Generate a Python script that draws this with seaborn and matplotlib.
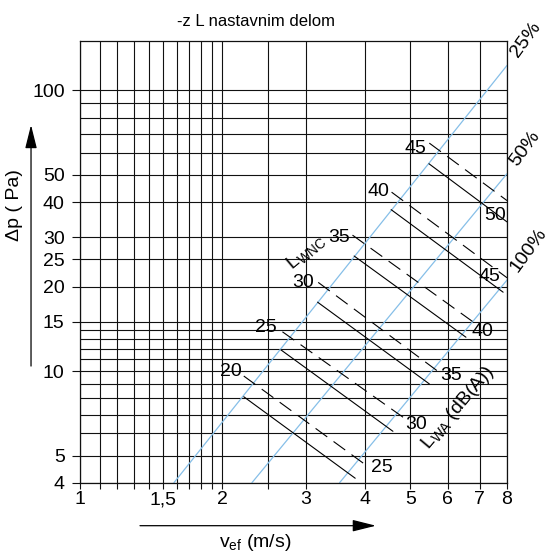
import numpy as np
import pandas as pd
import matplotlib
matplotlib.use('Agg')
import matplotlib.pyplot as plt
import seaborn as sns

# ---- data ----
x_labels = ['1', '1,5', '2', '3', '4', '5', '6', '7', '8']
x_ticks = [1, 1.5, 2, 3, 4, 5, 6, 7, 8]
x_minor = [1.1, 1.2, 1.3, 1.4, 1.6, 1.7, 1.8, 1.9, 2.5]
y_ticks = [4, 5, 10, 15, 20, 25, 30, 40, 50, 100]
y_minor = [6, 7, 8, 9, 11, 12, 13, 14, 60, 70, 80, 90]

# blue lines: share of the damper opening
pct_names = ['25%', '50%', '100%']
pct_v0 = [1.58, 2.31, 3.54]
pct_p0 = [4.0, 4.0, 4.0]
pct_v1 = [8.0, 8.0, 8.0]
pct_p1 = [122.8, 50.5, 21.1]

# noise lines: dashed = L_WNC, solid = L_WA
lwnc = [20, 25, 30, 35, 40, 45]
lwa = [25, 30, 35, 40, 45, 50]
dash_v0 = [2.22, 2.68, 3.19, 3.77, 4.56, 5.48]
dash_p0 = [9.6, 13.8, 20.7, 30.5, 43.4, 64.9]
dash_v1 = [3.97, 4.85, 5.75, 6.77, 8.0, 8.0]
dash_p1 = [4.7, 6.8, 9.9, 15.0, 21.5, 40.5]
solid_v0 = [2.22, 2.66, 3.18, 3.80, 4.55, 5.47]
solid_p0 = [8.1, 11.9, 17.6, 25.7, 37.6, 54.8]
solid_v1 = [3.82, 4.59, 5.48, 6.55, 7.85, 8.0]
solid_p1 = [4.15, 6.1, 9.0, 13.2, 19.1, 34.0]

# label spots (data coords)
lwnc_lab_v = [2.09, 2.47, 2.97, 3.54, 4.28, 5.12]
lwnc_lab_p = [10.0, 14.3, 20.6, 29.9, 43.6, 62.0]
lwa_lab_v = [4.35, 5.14, 6.09, 7.11, 7.35, 7.55]
lwa_lab_p = [4.52, 6.47, 9.67, 13.8, 21.7, 35.7]

sns.set_theme(style='white')
plt.rcParams['font.family'] = ['Liberation Sans', 'DejaVu Sans']
plt.rcParams['mathtext.default'] = 'regular'
plt.rcParams['text.color'] = 'black'
plt.rcParams['xtick.color'] = 'black'
plt.rcParams['ytick.color'] = 'black'

fs = 14

fig = plt.figure(figsize=(5.52, 5.58), dpi=100)
ax = fig.add_axes([0.1449, 0.1349, 0.7736, 0.7916])
ax.set_xscale('log')
ax.set_yscale('log')
ax.set_xlim(1, 8)
ax.set_ylim(4, 150)

# grid
ax.set_xticks(x_ticks)
ax.set_xticklabels(x_labels)
ax.set_xticks(x_minor, minor=True)
ax.set_yticks(y_ticks)
ax.set_yticklabels([str(t) for t in y_ticks])
ax.set_yticks(y_minor, minor=True)
ax.xaxis.set_minor_formatter(matplotlib.ticker.NullFormatter())
ax.yaxis.set_minor_formatter(matplotlib.ticker.NullFormatter())
ax.grid(True, which='both', color='#111111', lw=0.8)
ax.set_axisbelow(True)
ax.tick_params(axis='x', which='both', direction='out', length=4, width=0.8,
               color='#111111', labelsize=fs, pad=2, bottom=True)
ax.tick_params(axis='y', which='major', direction='out', length=6, width=0.8,
               color='#111111', labelsize=fs, pad=5, left=True)
ax.tick_params(axis='y', which='minor', length=0)
for s in ax.spines.values():
    s.set_color('#111111')
    s.set_linewidth(0.9)

# blue opening lines
blue = pd.DataFrame({
    'v': pct_v0 + pct_v1,
    'dp': pct_p0 + pct_p1,
    'pct': pct_names + pct_names,
})
sns.lineplot(data=blue, x='v', y='dp', units='pct', estimator=None,
             color='#86bfe8', lw=0.9, sort=False, legend=False, ax=ax)

# noise lines
noise = pd.DataFrame({
    'v': dash_v0 + dash_v1 + solid_v0 + solid_v1,
    'dp': dash_p0 + dash_p1 + solid_p0 + solid_p1,
    'kind': ['WNC'] * 12 + ['WA'] * 12,
    'pair': lwnc * 4,
})
noise['id'] = noise['kind'] + noise['pair'].astype(str)
sns.lineplot(data=noise, x='v', y='dp', units='id', style='kind',
             dashes={'WNC': (13, 7), 'WA': ''}, estimator=None,
             color='black', lw=0.8, sort=False, legend=False, ax=ax)

for lab, v, p in zip(lwnc, lwnc_lab_v, lwnc_lab_p):
    ax.text(v, p, str(lab), fontsize=fs, ha='center', va='center')
for lab, v, p in zip(lwa, lwa_lab_v, lwa_lab_p):
    ax.text(v, p, str(lab), fontsize=fs, ha='center', va='center')

for name, v, p in zip(pct_names, pct_v1, pct_p1):
    ax.annotate(name, xy=(v, p), xytext=(5, 7), textcoords='offset points',
                rotation=54, rotation_mode='anchor', ha='left', va='center',
                fontsize=fs, annotation_clip=False)

ax.text(3.0, 26.5, r'L$_{WNC}$', fontsize=fs, rotation=40,
        ha='center', va='center')
ax.text(6.3, 7.4, r'L$_{WA}$ (dB(A))', fontsize=fs, rotation=50,
        ha='center', va='center')

ax.set_xlabel('')
ax.set_ylabel('')

# titles and axis captions
fig.text(0.463, 0.962, '-z L nastavnim delom', fontsize=12,
         ha='center', va='center')
fig.text(0.027, 0.633, 'Δp ( Pa)', fontsize=fs, rotation=90,
         ha='center', va='center')
fig.text(0.462, 0.028, r'v$_{ef}$ (m/s)', fontsize=fs,
         ha='center', va='center')

arrow = dict(arrowstyle='-|>,head_length=1.2,head_width=0.3', color='black',
             lw=0.9, shrinkA=0, shrinkB=0)
ax.annotate('', xy=(0.0562, 0.776), xytext=(0.0562, 0.344),
            xycoords='figure fraction', textcoords='figure fraction',
            arrowprops=arrow)
ax.annotate('', xy=(0.681, 0.0579), xytext=(0.2536, 0.0579),
            xycoords='figure fraction', textcoords='figure fraction',
            arrowprops=arrow)

fig.savefig('out.png', dpi=100)
